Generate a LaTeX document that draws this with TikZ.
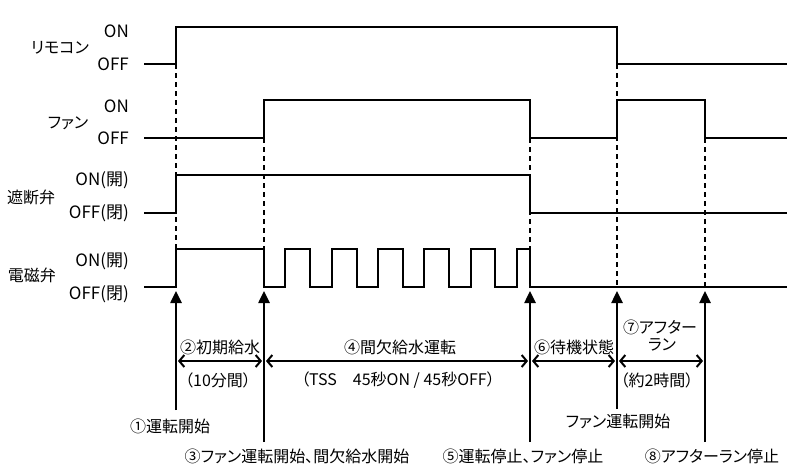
\documentclass[tikz,border=0pt]{standalone}
\usepackage{fontspec}
\setmainfont{Noto Sans CJK JP}[RawFeature=+palt]
\usetikzlibrary{arrows.meta}
\begin{document}
\begin{tikzpicture}[x=1pt,y=-1pt,
  sig/.style={line width=2.2pt, line join=miter},
  dsh/.style={line width=2.2pt, dash pattern=on 5pt off 4pt},
  varr/.style={line width=2.5pt, -{Triangle[width=11pt,length=12pt]}},
  harr/.style={line width=2pt, {Straight Barb[length=5pt,width=12pt]}-{Straight Barb[length=5pt,width=12pt]}, shorten <=2pt, shorten >=2pt},
  lbl/.style={font=\fontsize{16}{19}\selectfont, inner sep=0pt},
  lbr/.style={font=\fontsize{17}{20}\selectfont, inner sep=0pt, anchor=east}]
\useasboundingbox (0,0) rectangle (787,467);
% dashed guides
\draw[dsh] (176,64) -- (176,249);
\draw[dsh] (264,138) -- (264,249);
\draw[dsh] (530,138) -- (530,287);
\draw[dsh] (617,64) -- (617,287);
\draw[dsh] (705,138) -- (705,287);
% signals
\draw[sig] (144,64) -- (176,64) -- (176,27) -- (617,27) -- (617,64) -- (787,64);
\draw[sig] (144,138) -- (264,138) -- (264,100) -- (530,100) -- (530,138) -- (617,138) -- (617,100) -- (705,100) -- (705,138) -- (787,138);
\draw[sig] (144,213) -- (176,213) -- (176,175) -- (530,175) -- (530,213) -- (787,213);
\draw[sig] (144,287) -- (176,287) -- (176,249) -- (264,249) -- (264,287)
  -- (285,287) -- (285,249) -- (310,249) -- (310,287)
  -- (332,287) -- (332,249) -- (357,249) -- (357,287)
  -- (378,287) -- (378,249) -- (403,249) -- (403,287)
  -- (424,287) -- (424,249) -- (449,249) -- (449,287)
  -- (471,287) -- (471,249) -- (495,249) -- (495,287)
  -- (517,287) -- (517,249) -- (530,249) -- (530,287) -- (787,287);
% left labels
\node[lbl] (rc) at (60,48) {リモコン};
\node[lbr] (rcon) at (129,31) {ON};
\node[lbr] (rcoff) at (129,64) {OFF};
\node[lbl] (fan) at (68,123) {ファン};
\node[lbr] (fanon) at (129,106) {ON};
\node[lbr] (fanoff) at (129,138) {OFF};
\node[lbl] (sv) at (31,197) {遮断弁};
\node[lbr] (svon) at (129,180) {ON(開)};
\node[lbr] (svoff) at (129,213) {OFF(閉)};
\node[lbl] (mv) at (32,275) {電磁弁};
\node[lbr] (mvon) at (129,261) {ON(開)};
\node[lbr] (mvoff) at (129,294) {OFF(閉)};
% vertical event arrows
\coordinate (t1) at (176,291); \coordinate (b1) at (176,410);
\coordinate (t3) at (264,291); \coordinate (b3) at (264,442);
\coordinate (t5) at (530,291); \coordinate (b5) at (530,442);
\coordinate (t6) at (617,291); \coordinate (b6) at (617,409);
\coordinate (t8) at (705,291); \coordinate (b8) at (705,442);
\draw[varr] (b1) -- (t1);
\draw[varr] (b3) -- (t3);
\draw[varr] (b5) -- (t5);
\draw[varr] (b6) -- (t6);
\draw[varr] (b8) -- (t8);
% horizontal span arrows
\coordinate (h1) at (176,361); \coordinate (h3) at (264,361);
\coordinate (h5) at (530,361); \coordinate (h6) at (617,361);
\coordinate (h8) at (705,361);
\draw[harr] (h1) -- (h3);
\draw[harr] (h3) -- (h5);
\draw[harr] (h5) -- (h6);
\draw[harr] (h6) -- (h8);
% span labels
\node[lbl] (p2) at (220,347) {②初期給水};
\node[lbl] (p2b) at (218,380) {（10分間）};
\node[lbl] (p4) at (400,347) {④間欠給水運転};
\node[lbl] (p4b) at (398,380) {（TSS\hspace{1em}45秒ON / 45秒OFF）};
\node[lbl] (p6) at (574,347) {⑥待機状態};
\node[lbl] (p7) at (660,327) {⑦アフター};
\node[lbl] (p7a) at (662,345) {ラン};
\node[lbl] (p7b) at (657,380) {（約2時間）};
% event labels
\node[lbl] (e1) at (170,426) {①運転開始};
\node[lbl] (e6) at (618,421) {ファン運転開始};
\node[lbl] (e3) at (297,456) {③ファン運転開始、間欠給水開始};
\node[lbl] (e5) at (523,456) {⑤運転停止、ファン停止};
\node[lbl] (e8) at (712,456) {⑧アフターラン停止};
\end{tikzpicture}
\end{document}
